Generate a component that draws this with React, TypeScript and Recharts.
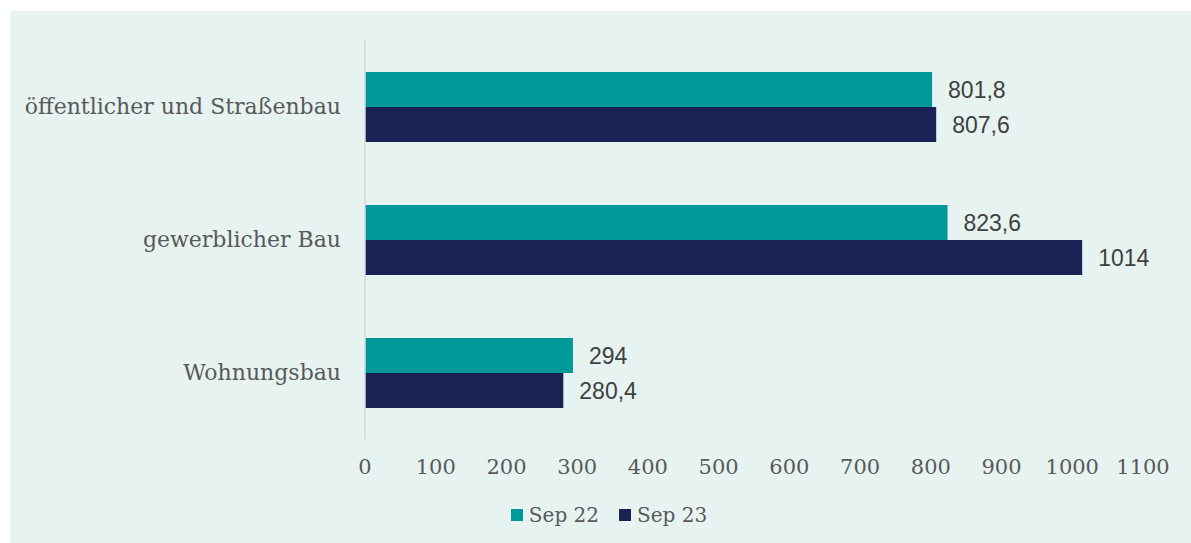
import {
  Bar,
  BarChart,
  LabelList,
  Legend,
  XAxis,
  YAxis,
} from "recharts";

const categories = ["öffentlicher und Straßenbau", "gewerblicher Bau", "Wohnungsbau"];
const sep22 = [801.8, 823.6, 294];
const sep23 = [807.6, 1014, 280.4];
const xTicks = [0, 100, 200, 300, 400, 500, 600, 700, 800, 900, 1000, 1100];

const TEAL = "#009999";
const NAVY = "#1a2155";
const SERIF = "'DejaVu Serif', serif";
const SANS = "'Liberation Sans', Arial, sans-serif";

const data = categories.map((name, i) => ({
  name,
  sep22: sep22[i],
  sep23: sep23[i],
}));

const fmt = (v: number) => String(v).replace(".", ",");

function LegendBox() {
  const items = [
    { label: "Sep 22", color: TEAL },
    { label: "Sep 23", color: NAVY },
  ];
  return (
    <div
      style={{
        display: "flex",
        justifyContent: "center",
        alignItems: "center",
        gap: 20,
        height: 30,
        paddingLeft: 64,
        fontFamily: SERIF,
        fontSize: 20,
        color: "#595959",
      }}
    >
      {items.map((it) => (
        <div key={it.label} style={{ display: "flex", alignItems: "center" }}>
          <span style={{ width: 12, height: 12, background: it.color, marginRight: 6 }} />
          <span>{it.label}</span>
        </div>
      ))}
    </div>
  );
}

export default function App() {
  return (
    <div style={{ width: 1191, height: 543, background: "#fff", overflow: "hidden" }}>
      <style>{"body{margin:0}"}</style>
      <div
        style={{
          marginLeft: 11,
          marginTop: 11,
          width: 1180,
          height: 532,
          background: "#e7f3f1",
        }}
      >
        <BarChart
          width={1180}
          height={532}
          data={data}
          layout="vertical"
          barCategoryGap="24%"
          barGap={0}
          margin={{ top: 29, right: 48, left: 0, bottom: 13 }}
        >
          <XAxis
            type="number"
            domain={[0, 1100]}
            ticks={xTicks}
            axisLine={false}
            tickLine={false}
            tickSize={0}
            tickMargin={20}
            height={61}
            interval={0}
            tick={{ fontFamily: SERIF, fontSize: 21, fill: "#595959" }}
          />
          <YAxis
            type="category"
            dataKey="name"
            width={354}
            axisLine={{ stroke: "#d9d9d9", strokeWidth: 1.5 }}
            tickLine={false}
            tickSize={0}
            tickMargin={24}
            tick={{ fontFamily: SERIF, fontSize: 22, fill: "#595959" }}
          />
          <Legend verticalAlign="bottom" height={30} content={() => <LegendBox />} />
          <Bar dataKey="sep22" name="Sep 22" fill={TEAL} isAnimationActive={false}>
            <LabelList
              dataKey="sep22"
              position="right"
              offset={16}
              formatter={(v: number) => fmt(v)}
              style={{ fontFamily: SANS, fontSize: 23, fill: "#404040" }}
            />
          </Bar>
          <Bar dataKey="sep23" name="Sep 23" fill={NAVY} isAnimationActive={false}>
            <LabelList
              dataKey="sep23"
              position="right"
              offset={16}
              formatter={(v: number) => fmt(v)}
              style={{ fontFamily: SANS, fontSize: 23, fill: "#404040" }}
            />
          </Bar>
        </BarChart>
      </div>
    </div>
  );
}
